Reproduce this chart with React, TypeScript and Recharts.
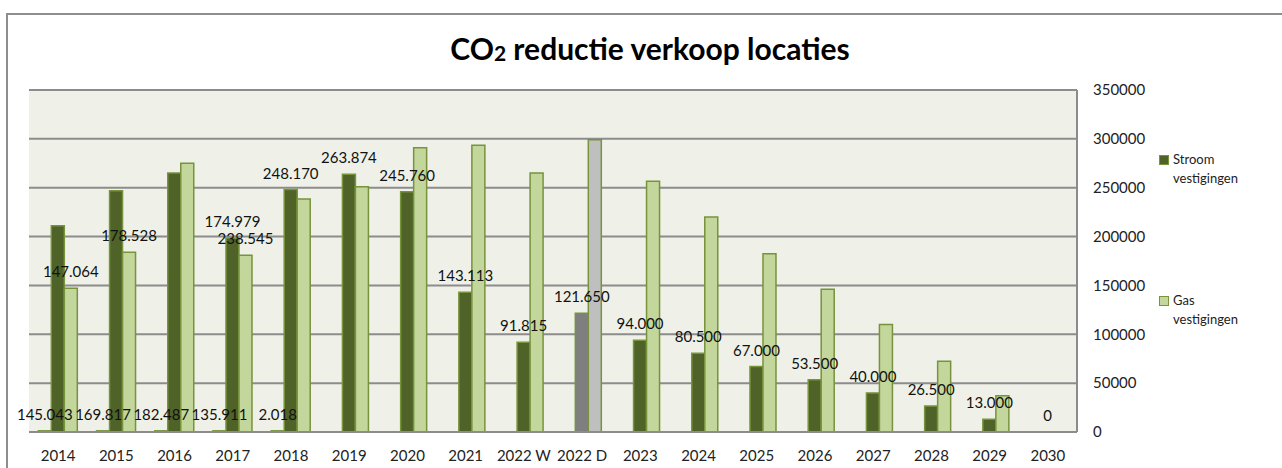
import { BarChart, Bar, XAxis, YAxis, CartesianGrid, Cell, LabelList, Legend } from "recharts";

const CATEGORIES = [
  "2014", "2015", "2016", "2017", "2018", "2019", "2020", "2021", "2022 W",
  "2022 D", "2023", "2024", "2025", "2026", "2027", "2028", "2029", "2030",
];

// third (unnamed) series, barely visible at the bottom
const OVERIG = [1200, 1200, 1200, 1200, 1200, 0, 0, 0, 0, 0, 0, 0, 0, 0, 0, 0, 0, 0];
const STROOM = [
  211000, 247000, 265000, 198500, 248170, 263874, 245760, 143113, 91815,
  121650, 94000, 80500, 67000, 53500, 40000, 26500, 13000, 0,
];
const GAS = [
  147064, 184000, 275000, 181000, 238545, 251000, 291000, 293500, 265000,
  299000, 256500, 220000, 182500, 146000, 110000, 72500, 37000, 0,
];

const OVERIG_LABELS = ["145.043", "169.817", "182.487", "135.911", "2.018"];
const STROOM_LABELS = [
  "", "", "", "174.979", "248.170", "263.874", "245.760", "143.113", "91.815",
  "121.650", "94.000", "80.500", "67.000", "53.500", "40.000", "26.500", "13.000", "0",
];
const GAS_LABELS = ["147.064", "178.528", "", "238.545"];

const Y_TICKS = [0, 50000, 100000, 150000, 200000, 250000, 300000, 350000];

const FONT = "Lato, 'Open Sans', sans-serif";
const DARK = "#4f6228";
const LIGHT = "#c3d69b";
const EDGE = "#77933c";
const GRID = "#8c8c8c";

const data = CATEGORIES.map((cat, i) => ({
  cat,
  overig: OVERIG[i],
  stroom: STROOM[i],
  gas: GAS[i],
  overigLabel: OVERIG_LABELS[i] || undefined,
  stroomLabel: STROOM_LABELS[i] || undefined,
  gasLabel: GAS_LABELS[i] || undefined,
}));

const labelStyle = { fill: "#111", fontSize: 15, fontFamily: FONT };

const LegendBox = () => {
  const items = [
    { color: DARK, name: ["Stroom", "vestigingen"], gap: 0 },
    { color: LIGHT, name: ["Gas", "vestigingen"], gap: 103 },
  ];
  return (
    <div style={{ fontFamily: FONT, fontSize: 13, color: "#222" }}>
      {items.map((it) => (
        <div key={it.name[0]} style={{ display: "flex", marginTop: it.gap, lineHeight: "19px" }}>
          <div
            style={{
              width: 8,
              height: 8,
              marginTop: 5,
              marginRight: 4,
              backgroundColor: it.color,
              border: `1px solid ${EDGE}`,
            }}
          />
          <div>
            {it.name[0]}
            <br />
            {it.name[1]}
          </div>
        </div>
      ))}
    </div>
  );
};

export default function App() {
  return (
    <div
      style={{
        position: "fixed",
        left: 0,
        top: 0,
        width: 1282,
        height: 468,
        background: "#fff",
        overflow: "hidden",
      }}
    >
      <div
        style={{
          position: "absolute",
          left: 6,
          top: 13,
          width: 1300,
          height: 500,
          border: "2px solid #8e8e8e",
        }}
      />
      <svg style={{ position: "absolute", left: 0, top: 0 }} width={1282} height={80}>
        <text
          x={650}
          y={60}
          textAnchor="middle"
          fontFamily={FONT}
          fontWeight="bold"
          fontSize={30}
          fill="#000"
        >
          CO
          <tspan fontSize={21} dy={1}>2</tspan>
          <tspan dy={-1}> reductie verkoop locaties</tspan>
        </text>
      </svg>
      <div style={{ position: "absolute", left: 0, top: 0 }}>
        <BarChart
          width={1282}
          height={468}
          data={data}
          margin={{ top: 90, right: 35, bottom: 6, left: 29 }}
          barGap={0}
          barCategoryGap="16%"
        >
          <CartesianGrid
            fill="#eff1e9"
            stroke={GRID}
            strokeWidth={2}
            verticalCoordinatesGenerator={({ offset }: any) => [offset.left + offset.width]}
          />
          <XAxis
            dataKey="cat"
            interval={0}
            height={30}
            tickLine={false}
            tickSize={8}
            tickMargin={10}
            axisLine={{ stroke: GRID, strokeWidth: 2 }}
            tick={{ fill: "#222", fontSize: 15, fontFamily: FONT }}
          />
          <YAxis
            orientation="right"
            domain={[0, 350000]}
            ticks={Y_TICKS}
            width={60}
            axisLine={false}
            tickLine={false}
            tickSize={6}
            tickMargin={10}
            tick={{ fill: "#222", fontSize: 15, fontFamily: FONT, textAnchor: "start" }}
          />
          <Legend
            layout="vertical"
            align="right"
            verticalAlign="top"
            content={<LegendBox />}
            wrapperStyle={{ left: 1159, top: 150, width: 110 }}
          />
          <Bar dataKey="overig" legendType="none" fill={DARK} stroke={EDGE} strokeWidth={1.5} isAnimationActive={false}>
            <LabelList dataKey="overigLabel" position="top" offset={11} style={labelStyle} />
          </Bar>
          <Bar
            dataKey="stroom"
            name="Stroom vestigingen"
            fill={DARK}
            stroke={EDGE}
            strokeWidth={1.5}
            minPointSize={(v: number) => (v === 0 ? 0.01 : 0)}
            isAnimationActive={false}
          >
            {data.map((d) => (
              <Cell
                key={d.cat}
                fill={d.cat === "2022 D" ? "#7f7f7f" : DARK}
                stroke={d.stroom === 0 ? "none" : EDGE}
              />
            ))}
            <LabelList dataKey="stroomLabel" position="top" offset={11} style={labelStyle} />
          </Bar>
          <Bar dataKey="gas" name="Gas vestigingen" fill={LIGHT} stroke={EDGE} strokeWidth={1.5} isAnimationActive={false}>
            {data.map((d) => (
              <Cell key={d.cat} fill={d.cat === "2022 D" ? "#bfbfbf" : LIGHT} />
            ))}
            <LabelList dataKey="gasLabel" position="top" offset={11} style={labelStyle} />
          </Bar>
        </BarChart>
      </div>
    </div>
  );
}
